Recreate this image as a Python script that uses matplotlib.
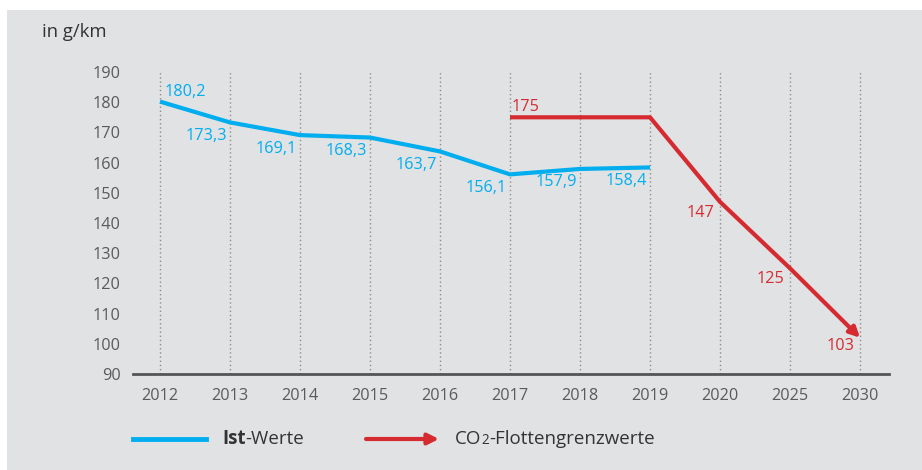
import matplotlib
matplotlib.use("Agg")
import matplotlib.pyplot as plt
from matplotlib.patches import Rectangle, FancyArrowPatch
from matplotlib.lines import Line2D

# ── Data ────────────────────────────────────────────────────────────────
years      = ["2012", "2013", "2014", "2015", "2016", "2017", "2018", "2019", "2020", "2025", "2030"]
ist_values = [180.2, 173.3, 169.1, 168.3, 163.7, 156.1, 157.9, 158.4]
ist_labels = ["180,2", "173,3", "169,1", "168,3", "163,7", "156,1", "157,9", "158,4"]
grenz_idx    = [5, 7, 8, 9, 10]
grenz_values = [175, 175, 147, 125, 103]
grenz_labels = ["175", "175", "147", "125", "103"]
y_ticks = list(range(90, 200, 10))

# ── Style ───────────────────────────────────────────────────────────────
BLUE  = "#00aeef"
RED   = "#d52b30"
BG    = "#e1e2e4"
TICK  = "#5a5a5a"
DARK  = "#333333"
FS    = 11.7
LFS   = 13.5
plt.rcParams["font.family"] = ["Open Sans", "DejaVu Sans"]

fig = plt.figure(figsize=(9.22, 4.70), dpi=100)
fig.patch.set_facecolor("white")
fig.add_artist(Rectangle((7 / 922, 0), 1, 1 - 10 / 470, transform=fig.transFigure,
                         facecolor=BG, edgecolor="none", zorder=-10))

ax = fig.add_axes([133 / 922, 96 / 470, 756 / 922, 302 / 470])
ax.set_facecolor("none")
ax.set_xlim(-0.386, 10.414)
ax.set_ylim(90, 190)
for s in ["top", "right", "left"]:
    ax.spines[s].set_visible(False)
ax.spines["bottom"].set_color("#555555")
ax.spines["bottom"].set_linewidth(2)

ax.set_xticks(range(len(years)))
ax.set_xticklabels(years)
ax.set_yticks(y_ticks)
ax.tick_params(length=0, labelsize=FS, labelcolor=TICK)
ax.tick_params(axis="x", pad=10)
ax.tick_params(axis="y", pad=9)

# dotted verticals
for i in range(len(years)):
    ax.plot([i, i], [90, 190], color="#8c8c8c", lw=1, ls=(0, (1, 2)), zorder=1)

# Ist-Werte
xi = list(range(len(ist_values)))
ax.plot(xi, ist_values, color=BLUE, lw=3, solid_capstyle="butt", zorder=3)
for i, (v, lab) in enumerate(zip(ist_values, ist_labels)):
    if i == 0:
        ax.annotate(lab, (i, v), xytext=(3, 1), textcoords="offset points",
                    ha="left", va="bottom", color=BLUE, fontsize=FS)
    else:
        ax.annotate(lab, (i, v), xytext=(-2, -4), textcoords="offset points",
                    ha="right", va="top", color=BLUE, fontsize=FS)

# Flottengrenzwerte
ax.plot(grenz_idx[:-1], grenz_values[:-1], color=RED, lw=3, solid_capstyle="butt", zorder=3)
ax.annotate("", xy=(grenz_idx[-1], grenz_values[-1] - 1), xytext=(grenz_idx[-2], grenz_values[-2]),
            arrowprops=dict(arrowstyle="-|>", color=RED, lw=3, mutation_scale=15,
                            shrinkA=0, shrinkB=0), zorder=3)
ax.annotate(grenz_labels[0], (grenz_idx[0], grenz_values[0]), xytext=(1, 2),
            textcoords="offset points", ha="left", va="bottom", color=RED, fontsize=FS)
for i, v, lab in zip(grenz_idx[2:], grenz_values[2:], grenz_labels[2:]):
    ax.annotate(lab, (i, v), xytext=(-4, -2), textcoords="offset points",
                ha="right", va="top", color=RED, fontsize=FS)

# unit label
fig.text(42 / 922, 1 - 32 / 470, "in g/km", color=DARK, fontsize=13.3, va="center", ha="left")

# legend
ly = 1 - 444 / 470   # baseline
fig.add_artist(Line2D([133 / 922, 206 / 922], [1 - 439 / 470] * 2, color=BLUE, lw=3.5,
                      transform=fig.transFigure))
fig.add_artist(FancyArrowPatch(
    (366 / 922, 1 - 439 / 470), (439 / 922, 1 - 439 / 470), transform=fig.transFigure,
    arrowstyle="-|>", color=RED, lw=3, mutation_scale=16, shrinkA=0, shrinkB=0))


def chain(x_px, parts):
    """Draw text pieces side by side on one baseline."""
    for txt, kw in parts:
        t = fig.text(x_px / 922, ly, txt, color=DARK, va="baseline", **kw)
        fig.canvas.draw()
        x_px = t.get_window_extent().x1
    return x_px


chain(222, [("Ist", dict(fontsize=LFS, fontweight="bold")), ("-Werte", dict(fontsize=LFS))])
chain(455, [("CO", dict(fontsize=LFS)), ("2", dict(fontsize=LFS * 0.72)),
            ("-Flottengrenzwerte", dict(fontsize=LFS))])

fig.savefig("out.png", dpi=100, facecolor=fig.get_facecolor())
